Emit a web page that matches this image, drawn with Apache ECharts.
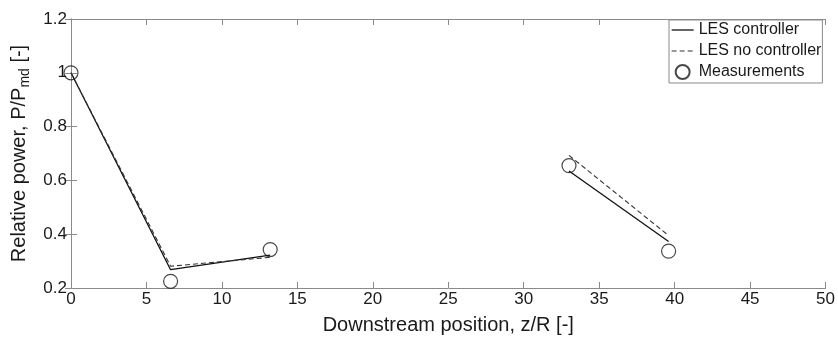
<!DOCTYPE html>
<html>
<head>
<meta charset="utf-8">
<title>Relative power vs downstream position</title>
<script src="https://cdn.jsdelivr.net/npm/echarts@6/dist/echarts.min.js"></script>
<style>
  html, body { margin: 0; padding: 0; background: #fff; }
  #chart { width: 838px; height: 340px; }
</style>
</head>
<body>
<div id="chart"></div>
<script>
// Downstream positions (z/R) and relative power P/Pmd
const measZ = [0, 6.6, 13.2, 33.0, 39.6];
const measP = [1.0, 0.225, 0.343, 0.655, 0.337];

// LES with controller: near-wake row and far-wake pair
const ctrlNearZ = [0, 6.6, 13.2];
const ctrlNearP = [1.0, 0.268, 0.322];
const ctrlFarZ = [33.0, 39.6];
const ctrlFarP = [0.635, 0.373];

// LES without controller
const noCtrlNearZ = [0, 6.6, 13.2];
const noCtrlNearP = [1.0, 0.281, 0.314];
const noCtrlFarZ = [33.0, 39.6];
const noCtrlFarP = [0.693, 0.395];

// Axis ranges and ticks
const xTicks = [0, 5, 10, 15, 20, 25, 30, 35, 40, 45, 50];
const yTicks = [0.2, 0.4, 0.6, 0.8, 1.0, 1.2];

const seriesNames = ['LES controller', 'LES no controller', 'Measurements'];

function pairs(xs, ys) {
  return xs.map((x, i) => [x, ys[i]]);
}

const FONT = '"Liberation Sans", Arial, sans-serif';
const AXIS_COLOR = '#8a8a8a';
const TEXT_COLOR = '#1a1a1a';
const SOLID = { color: '#111111', width: 1.3, type: 'solid' };
const DASHED = { color: '#333333', width: 1.1, type: [5, 3] };

const xMin = xTicks[0], xMax = xTicks[xTicks.length - 1];
const xStep = xTicks[1] - xTicks[0];
const yMin = yTicks[0], yMax = yTicks[yTicks.length - 1];
const yStep = +(yTicks[1] - yTicks[0]).toFixed(3);

function baseAxis(extra) {
  return Object.assign({
    type: 'value',
    axisLine: { show: true, lineStyle: { color: AXIS_COLOR, width: 1 } },
    axisTick: { show: true, inside: true, length: 6, lineStyle: { color: AXIS_COLOR } },
    splitLine: { show: false }
  }, extra);
}

const lineCommon = {
  type: 'line',
  symbol: 'none',
  silent: true,
  animation: false
};

// Line entries in the legend show only their stroke, no marker
const hiddenMarker = { color: 'rgba(0,0,0,0)', borderColor: 'rgba(0,0,0,0)', borderWidth: 0, opacity: 0 };

const chart = echarts.init(document.getElementById('chart'), null, { renderer: 'canvas' });

chart.setOption({
  backgroundColor: '#ffffff',
  animation: false,
  textStyle: { fontFamily: FONT, color: TEXT_COLOR },
  grid: { left: 71, right: 11, top: 19, bottom: 40, containLabel: false },
  legend: {
    data: [
      { name: seriesNames[0], itemStyle: hiddenMarker, lineStyle: SOLID },
      { name: seriesNames[1], itemStyle: hiddenMarker, lineStyle: DASHED },
      { name: seriesNames[2] }
    ],
    orient: 'vertical',
    left: 669,
    top: 20,
    backgroundColor: '#ffffff',
    borderColor: '#8a8a8a',
    borderWidth: 1,
    borderRadius: 0,
    padding: [2, 1, 3, 2],
    itemGap: 5,
    itemWidth: 22,
    itemHeight: 14,
    textStyle: { fontFamily: FONT, fontSize: 16, color: TEXT_COLOR }
  },
  xAxis: [
    baseAxis({
      position: 'bottom',
      min: xMin, max: xMax, interval: xStep,
      name: 'Downstream position, z/R [-]',
      nameLocation: 'middle',
      nameGap: 27,
      nameTextStyle: { fontFamily: FONT, fontSize: 20, color: TEXT_COLOR },
      axisLabel: { fontFamily: FONT, fontSize: 17, color: TEXT_COLOR, margin: 3 }
    }),
    baseAxis({
      position: 'top',
      min: xMin, max: xMax, interval: xStep,
      axisLabel: { show: false }
    })
  ],
  yAxis: [
    baseAxis({
      position: 'left',
      min: yMin, max: yMax, interval: yStep,
      name: '{t|Relative power, P/P}{s|md}{t| [-]}',
      nameLocation: 'middle',
      nameRotate: 90,
      nameGap: 27,
      nameTextStyle: {
        fontFamily: FONT,
        color: TEXT_COLOR,
        rich: {
          t: { fontFamily: FONT, fontSize: 20, color: TEXT_COLOR, lineHeight: 26 },
          s: { fontFamily: FONT, fontSize: 14, color: TEXT_COLOR, lineHeight: 26, verticalAlign: 'bottom' }
        }
      },
      axisLabel: {
        fontFamily: FONT, fontSize: 17, color: TEXT_COLOR, margin: 4,
        formatter: v => String(+v.toFixed(1))
      }
    }),
    baseAxis({
      position: 'right',
      min: yMin, max: yMax, interval: yStep,
      axisLabel: { show: false }
    })
  ],
  series: [
    Object.assign({}, lineCommon, {
      name: seriesNames[0],
      data: pairs(ctrlNearZ, ctrlNearP),
      lineStyle: SOLID,
      itemStyle: { color: SOLID.color }
    }),
    Object.assign({}, lineCommon, {
      name: seriesNames[0],
      data: pairs(ctrlFarZ, ctrlFarP),
      lineStyle: SOLID,
      itemStyle: { color: SOLID.color }
    }),
    Object.assign({}, lineCommon, {
      name: seriesNames[1],
      data: pairs(noCtrlNearZ, noCtrlNearP),
      lineStyle: DASHED,
      itemStyle: { color: DASHED.color }
    }),
    Object.assign({}, lineCommon, {
      name: seriesNames[1],
      data: pairs(noCtrlFarZ, noCtrlFarP),
      lineStyle: DASHED,
      itemStyle: { color: DASHED.color }
    }),
    {
      name: seriesNames[2],
      type: 'scatter',
      silent: true,
      data: pairs(measZ, measP),
      symbol: 'circle',
      symbolSize: 14,
      itemStyle: { color: 'rgba(0,0,0,0)', borderColor: '#1a1a1a', borderWidth: 1.2 }
    }
  ]
});
</script>
</body>
</html>
